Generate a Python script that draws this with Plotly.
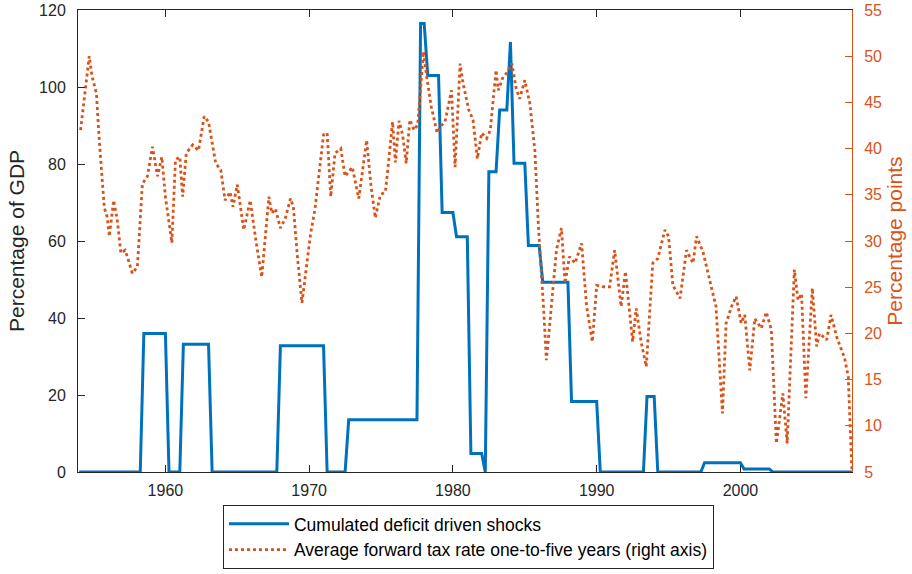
import plotly.graph_objects as go

# Cumulated deficit driven shocks (percentage of GDP) - step vertices
shock_year = [1954.0, 1958.25, 1958.5, 1960.0, 1960.25, 1961.0, 1961.25, 1963.0, 1963.25,
              1967.75, 1968.0, 1971.0, 1971.25, 1972.5, 1972.75, 1977.5, 1977.75, 1978.0,
              1978.25, 1979.0, 1979.25, 1980.0, 1980.25, 1981.0, 1981.25, 1982.0, 1982.25,
              1982.5, 1983.0, 1983.25, 1983.75, 1984.0, 1984.25, 1985.0, 1985.25, 1986.0,
              1986.25, 1988.0, 1988.25, 1990.0, 1990.25, 1993.25, 1993.5, 1994.0, 1994.25,
              1997.25, 1997.5, 2000.0, 2000.25, 2002.0, 2002.25, 2007.75]
shock_val = [0, 0, 36.0, 36.0, 0, 0, 33.2, 33.2, 0,
             0, 32.8, 32.8, 0, 0, 13.6, 13.6, 116.5, 116.5,
             103.0, 103.0, 67.4, 67.4, 61.1, 61.1, 4.8, 4.8, 0,
             78.0, 78.0, 94.0, 94.0, 111.7, 80.2, 80.2, 58.8, 58.8,
             49.3, 49.3, 18.3, 18.3, 0, 0, 19.6, 19.6, 0,
             0, 2.4, 2.4, 0.8, 0.8, 0, 0]

# Average forward tax rate one-to-five years (percentage points, right axis)
tax_year = [1954.1, 1954.35, 1954.7, 1954.9, 1955.2, 1955.4, 1955.6, 1955.75, 1955.95, 1956.1,
            1956.4, 1956.65, 1956.9, 1957.2, 1957.45, 1957.7, 1958.05, 1958.4, 1958.75, 1959.1,
            1959.45, 1959.75, 1960.0, 1960.45, 1960.7, 1961.0, 1961.2, 1961.45, 1961.9, 1962.3,
            1962.7, 1963.0, 1963.5, 1963.85, 1964.15, 1964.5, 1964.7, 1965.0, 1965.45, 1965.9,
            1966.3, 1966.7, 1967.2, 1967.4, 1967.65, 1968.0, 1968.35, 1968.7, 1968.9, 1969.2,
            1969.5, 1970.1, 1970.4, 1970.7, 1971.0, 1971.25, 1971.5, 1971.8, 1972.2, 1972.5,
            1973.0, 1973.45, 1974.0, 1974.3, 1974.6, 1974.95, 1975.3, 1975.5, 1975.8, 1976.0,
            1976.25, 1976.5, 1976.75, 1977.0, 1977.3, 1977.55, 1977.95, 1978.2, 1978.5, 1978.9,
            1979.2, 1979.45, 1979.9, 1980.15, 1980.5, 1980.7, 1981.1, 1981.4, 1981.7, 1982.0,
            1982.35, 1982.6, 1983.0, 1983.15, 1983.5, 1983.7, 1984.1, 1984.4, 1984.65, 1985.0,
            1985.35, 1985.7, 1985.95, 1986.3, 1986.5, 1986.7, 1987.2, 1987.55, 1987.8, 1988.1,
            1988.5, 1988.95, 1989.3, 1989.7, 1990.0, 1990.45, 1990.9, 1991.25, 1991.7, 1992.0,
            1992.5, 1992.75, 1993.1, 1993.45, 1993.9, 1994.25, 1994.75, 1995.0, 1995.3, 1995.8,
            1996.25, 1996.7, 1996.95, 1997.4, 1997.85, 1998.3, 1998.75, 1999.0, 1999.4, 1999.7,
            2000.05, 2000.3, 2000.65, 2001.0, 2001.45, 2001.8, 2002.15, 2002.5, 2002.95, 2003.25,
            2003.75, 2004.0, 2004.25, 2004.55, 2005.0, 2005.3, 2005.5, 2006.0, 2006.3, 2006.7,
            2007.25, 2007.5, 2007.75]
tax_val = [42.0, 45.3, 50.0, 47.8, 46.0, 40.9, 36.6, 33.6, 32.6, 30.5,
           34.4, 32.3, 28.7, 29.0, 27.8, 26.5, 27.2, 36.2, 37.0, 40.2,
           37.0, 39.1, 34.8, 29.8, 38.8, 39.1, 34.8, 39.5, 40.4, 39.8,
           43.5, 42.9, 38.4, 37.7, 34.4, 35.3, 33.7, 36.1, 31.2, 34.4,
           30.0, 26.1, 34.8, 33.0, 33.5, 31.4, 32.5, 34.6, 33.7, 28.0,
           23.3, 30.8, 33.4, 37.5, 41.5, 41.7, 34.8, 39.5, 40.0, 37.0,
           38.0, 34.6, 40.9, 36.0, 32.5, 35.0, 35.3, 38.2, 42.9, 38.5,
           43.0, 41.5, 38.4, 43.1, 42.0, 42.6, 50.5, 47.5, 44.5, 41.7,
           42.5, 42.9, 46.3, 38.0, 49.2, 47.1, 44.2, 43.1, 38.9, 41.7,
           41.1, 42.0, 48.5, 46.3, 47.8, 48.1, 49.2, 46.5, 45.4, 47.4,
           44.9, 39.8, 31.5, 22.9, 17.1, 20.4, 29.0, 31.4, 25.4, 28.3,
           27.6, 29.75, 22.9, 19.1, 25.2, 25.05, 25.05, 29.0, 22.9, 26.7,
           19.1, 22.7, 19.0, 16.4, 27.6, 28.1, 31.2, 30.5, 25.2, 23.8,
           29.0, 27.6, 30.5, 28.8, 25.8, 22.9, 11.35, 21.1, 23.0, 24.0,
           21.1, 22.0, 16.0, 21.6, 20.55, 22.3, 20.4, 8.1, 13.5, 8.1,
           26.9, 23.6, 24.3, 13.0, 24.9, 18.6, 20.0, 19.3, 22.0, 19.6,
           17.3, 15.3, 5.2]

x_ticks = [1960, 1970, 1980, 1990, 2000]
left_ticks = [0, 20, 40, 60, 80, 100, 120]
right_ticks = [5, 10, 15, 20, 25, 30, 35, 40, 45, 50, 55]

BLUE = "#0072BD"
ORANGE = "#D95319"
AXC = "#262626"
FONT = "Liberation Sans, Arial, Helvetica, sans-serif"

fig = go.Figure()
fig.add_trace(go.Scatter(x=shock_year, y=shock_val, mode="lines",
                         name="Cumulated deficit driven shocks",
                         line=dict(color=BLUE, width=3)))
fig.add_trace(go.Scatter(x=tax_year, y=tax_val, mode="lines", yaxis="y2",
                         name="Average forward tax rate one-to-five years (right axis)",
                         line=dict(color=ORANGE, width=2.8, dash="dot")))

fig.update_layout(
    width=912, height=574,
    margin=dict(l=78, r=60, t=10, b=102, autoexpand=False),
    paper_bgcolor="white", plot_bgcolor="white",
    font=dict(family=FONT, size=16, color=AXC),
    xaxis=dict(range=[1953.92, 2007.76], tickvals=x_ticks, ticks="inside", ticklen=7,
               tickcolor=AXC, showline=True, linecolor=AXC, linewidth=1, mirror="ticks",
               showgrid=False, zeroline=False, tickfont=dict(size=16, color=AXC),
               automargin=False, ticklabelstandoff=4),
    yaxis=dict(range=[0, 120], tickvals=left_ticks, ticks="inside", ticklen=7,
               tickcolor=AXC, showline=True, linecolor=AXC, linewidth=1,
               showgrid=False, zeroline=False, tickfont=dict(size=16, color=AXC),
               automargin=False, ticklabelstandoff=8,
               title=dict(text="Percentage of GDP", font=dict(size=21, color=AXC), standoff=8)),
    yaxis2=dict(range=[5, 55], tickvals=right_ticks, overlaying="y", side="right",
                ticks="inside", ticklen=7, tickcolor=ORANGE, showline=True,
                linecolor=ORANGE, linewidth=1, showgrid=False, zeroline=False,
                tickfont=dict(size=16, color=ORANGE), automargin=False, ticklabelstandoff=8,
                title=dict(text="Percentage points", font=dict(size=21, color=ORANGE), standoff=6)),
    legend=dict(x=0.5045, y=-0.0714, xanchor="center", yanchor="top",
                bordercolor="#262626", borderwidth=1, bgcolor="white",
                font=dict(size=17.5, color="black"), tracegroupgap=0, itemwidth=60),
    showlegend=True,
)

fig.write_html("out.html")
